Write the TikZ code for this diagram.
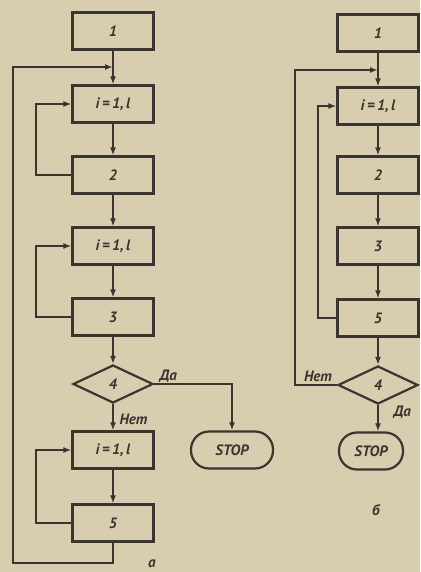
\documentclass[tikz,border=0pt]{standalone}
\usepackage{fontspec}
\setmainfont{PT Sans}
\usetikzlibrary{shapes.geometric,arrows.meta}
\definecolor{paper}{HTML}{D9CDAF}
\definecolor{ink}{HTML}{3A352F}
\begin{document}
\begin{tikzpicture}[x=1pt,y=-1pt,
  every node/.style={font=\fontsize{15}{17}\selectfont\bfseries\itshape, text=ink},
  blockbox/.style={draw=ink, line width=2.2pt, minimum width=81pt, minimum height=37pt, inner sep=1pt},
  testbox/.style={diamond, draw=ink, line width=2.2pt, minimum width=80pt, minimum height=38pt, inner sep=0pt},
  stopbox/.style={draw=ink, line width=2.2pt, rounded corners=18pt, minimum height=37pt, inner sep=2pt},
  flow/.style={draw=ink, line width=2.4pt, -{Latex[length=8pt,width=6pt]}}]

  \fill[paper] (0,0) rectangle (420,572);
  \useasboundingbox (0,0) rectangle (420,572);

  % scheme a
  \node[blockbox] (a1) at (113,31) {1};
  \node[blockbox] (ai1) at (113,104) {i\,=\,1,\,l};
  \node[blockbox] (a2) at (113,175) {2};
  \node[blockbox] (ai2) at (113,246) {i\,=\,1,\,l};
  \node[blockbox] (a3) at (113,317) {3};
  \node[testbox] (a4) at (113,384) {4};
  \node[blockbox] (ai3) at (113,450) {i\,=\,1,\,l};
  \node[blockbox] (a5) at (113,523) {5};
  \node[stopbox, minimum width=82pt] (astop) at (232,450) {STOP};
  \coordinate (ajoin) at (113,67);

  \draw[flow] (a1) -- (ai1);
  \draw[flow] (ai1) -- (a2);
  \draw[flow] (a2) -- (ai2);
  \draw[flow] (ai2) -- (a3);
  \draw[flow] (a3) -- (a4);
  \draw[flow] (a4) -- (ai3);
  \draw[flow] (ai3) -- (a5);
  \draw[flow] (a2.west) -| (36,104) -- (ai1.west);
  \draw[flow] (a3.west) -| (36,246) -- (ai2.west);
  \draw[flow] (a5.west) -| (36,450) -- (ai3.west);
  \draw[flow] (a5.south) |- (13,563) |- (ajoin);
  \draw[flow] (a4.east) -| (astop.north);
  \node[anchor=south west] at (156,386) {Да};
  \node[anchor=west] at (116,419) {Нет};
  \node at (152,564) {а};

  % scheme b
  \node[blockbox] (b1) at (378,33) {1};
  \node[blockbox] (bi) at (378,106) {i\,=\,1,\,l};
  \node[blockbox] (b2) at (378,175) {2};
  \node[blockbox] (b3) at (378,246) {3};
  \node[blockbox] (b5) at (378,318) {5};
  \node[testbox] (b4) at (378,385) {4};
  \node[stopbox, minimum width=64pt] (bstop) at (371,451) {STOP};
  \coordinate (bjoin) at (378,70);

  \draw[flow] (b1) -- (bi);
  \draw[flow] (bi) -- (b2);
  \draw[flow] (b2) -- (b3);
  \draw[flow] (b3) -- (b5);
  \draw[flow] (b5) -- (b4);
  \draw[flow] (b4.south) -- (b4.south |- bstop.north);
  \draw[flow] (b5.west) -| (318,106) -- (bi.west);
  \draw[flow] (b4.west) -| (295,70) -- (bjoin);
  \node[anchor=south] at (318,385) {Нет};
  \node[anchor=west] at (390,412) {Да};
  \node at (376,510) {б};
\end{tikzpicture}
\end{document}
